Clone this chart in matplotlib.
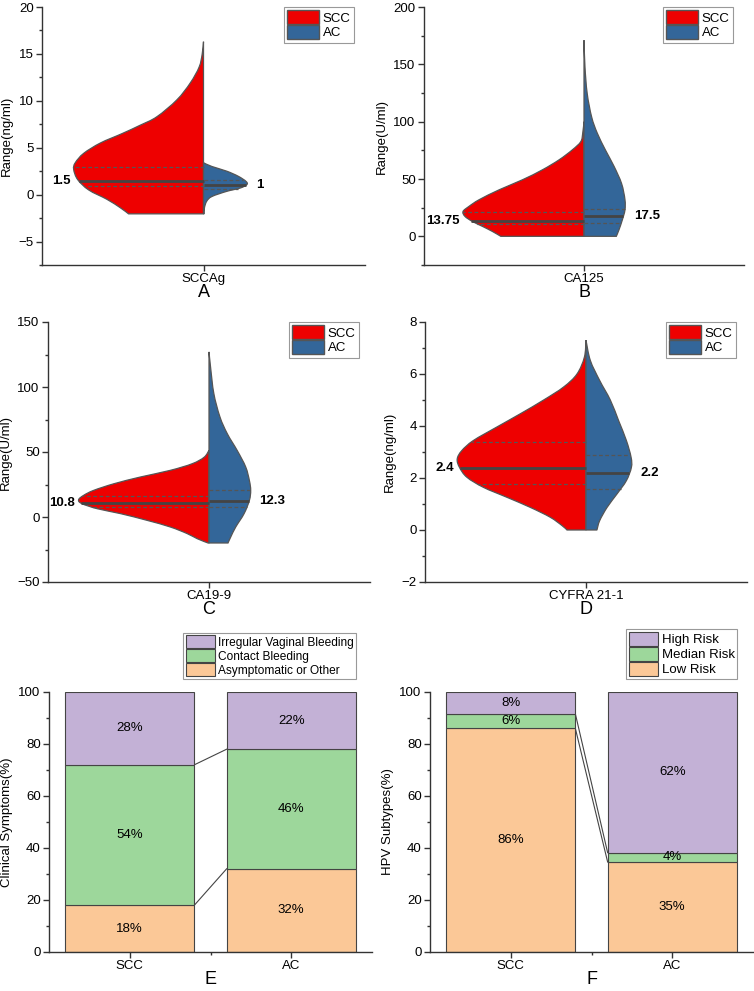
import matplotlib
matplotlib.use("Agg")
import matplotlib.pyplot as plt
import numpy as np
from matplotlib.patches import Patch, PathPatch
from matplotlib.path import Path
from matplotlib.ticker import MultipleLocator

plt.rcParams['font.family'] = ['Liberation Sans', 'DejaVu Sans']

RED = '#EE0000'
BLUE = '#336699'
EDGE = '#555555'
PURPLE = '#C3B1D6'
GREEN = '#9DD79B'
ORANGE = '#FBC897'

groups = ['SCC', 'AC']

# ---- violin outlines: value, half width ----
scc_a_y = [-2.05, -1.4, -0.5, 0.5, 1.6, 2.7, 3.4, 4.4, 5.5, 6.5, 7.4, 8.3, 10.1, 11.9, 13.6, 15.0, 16.3]
scc_a_w = [0.464, 0.515, 0.598, 0.711, 0.779, 0.804, 0.794, 0.742, 0.639, 0.505, 0.392, 0.289, 0.165, 0.082, 0.027, 0.008, 0.0]
ac_a_y = [-2.05, -1.4, -0.7, -0.2, 0.35, 0.7, 1.06, 1.4, 1.95, 2.5, 3.0, 3.4]
ac_a_w = [0.004, 0.006, 0.02, 0.052, 0.144, 0.227, 0.268, 0.264, 0.216, 0.144, 0.052, 0.0]

scc_b_y = [0, 4.3, 8.7, 13.0, 17.4, 21.7, 26.1, 31.9, 40.6, 49.3, 58.0, 66.7, 75.4, 82.6, 90, 100]
scc_b_w = [0.52, 0.573, 0.635, 0.698, 0.744, 0.756, 0.719, 0.656, 0.53, 0.385, 0.26, 0.156, 0.073, 0.02, 0.008, 0.0]
ac_b_y = [0, 5.8, 14.5, 23, 32, 46, 61, 75, 90, 104, 124.6, 148, 171]
ac_b_w = [0.202, 0.219, 0.24, 0.256, 0.256, 0.235, 0.188, 0.135, 0.083, 0.048, 0.02, 0.006, 0.0]

scc_c_y = [-20, -16.7, -12.8, -7.7, -2.6, 2.6, 6.4, 10.3, 13.3, 16.7, 20.5, 25.6, 30.8, 35.9, 41, 46, 51.3]
scc_c_w = [0.006, 0.073, 0.135, 0.24, 0.384, 0.55, 0.695, 0.79, 0.81, 0.778, 0.716, 0.59, 0.425, 0.24, 0.104, 0.03, 0.0]
ac_c_y = [-20, -15.4, -7.7, 2.6, 12.8, 20.5, 28, 38.5, 51, 64, 77, 95, 115, 127]
ac_c_w = [0.118, 0.135, 0.166, 0.218, 0.251, 0.259, 0.251, 0.228, 0.176, 0.114, 0.068, 0.03, 0.01, 0.0]

scc_d_y = [0, 0.17, 0.49, 0.87, 1.26, 1.64, 2.03, 2.41, 2.73, 3.05, 3.44, 3.96, 4.47, 5.0, 5.5, 6.0, 6.65, 7.3]
scc_d_w = [0.118, 0.149, 0.222, 0.346, 0.492, 0.637, 0.74, 0.786, 0.8, 0.772, 0.7, 0.554, 0.408, 0.263, 0.139, 0.056, 0.01, 0.0]
ac_d_y = [0, 0.36, 0.87, 1.39, 1.9, 2.41, 2.8, 3.44, 4.2, 5.0, 5.75, 6.52, 7.3]
ac_d_w = [0.068, 0.085, 0.131, 0.193, 0.251, 0.282, 0.28, 0.251, 0.203, 0.151, 0.085, 0.027, 0.0]

# medians and quartiles (SCC, AC)
medians_a = [1.5, 1]
quart_a = [(0.9, 2.9), (0.65, 1.6)]
medians_b = [13.75, 17.5]
quart_b = [(11, 21), (11.6, 23.8)]
medians_c = [10.8, 12.3]
quart_c = [(7.7, 16.4), (8, 20.8)]
medians_d = [2.4, 2.2]
quart_d = [(1.77, 3.38), (1.58, 2.89)]

markers = ['SCCAg', 'CA125', 'CA19-9', 'CYFRA 21-1']
units = ['Range(ng/ml)', 'Range(U/ml)', 'Range(U/ml)', 'Range(ng/ml)']

# ---- stacked bars ----
sym_labels = ['Asymptomatic or Other', 'Contact Bleeding', 'Irregular Vaginal Bleeding']
sym_scc = [18, 54, 28]
sym_ac = [32, 46, 22]
hpv_labels = ['Low Risk', 'Median Risk', 'High Risk']
hpv_scc = [86, 5.6, 8.4]
hpv_ac = [34.6, 3.6, 61.8]
hpv_text_scc = ['86%', '6%', '8%']
hpv_text_ac = ['35%', '4%', '62%']

W, H = 754, 991
fig = plt.figure(figsize=(W / 100, H / 100), dpi=100)


def rect(x0, y0, x1, y1):
    return [x0 / W, (H - y1) / H, (x1 - x0) / W, (y1 - y0) / H]


def style_axes(ax):
    for s in ['top', 'right']:
        ax.spines[s].set_visible(False)
    for s in ['left', 'bottom']:
        ax.spines[s].set_color('#333333')
        ax.spines[s].set_linewidth(1.0)
    ax.tick_params(which='major', direction='out', length=4, width=1, color='#333333', labelsize=9.5, pad=2)
    ax.tick_params(which='minor', direction='out', length=2.5, width=1, color='#333333')


def smooth_path(xs, ys):
    # curve through the read points (Catmull-Rom drawn as cubic Bezier pieces)
    p = np.column_stack([xs, ys])
    ext = np.vstack([p[0], p, p[-1]])
    verts = [p[0]]
    codes = [Path.MOVETO]
    for i in range(len(p) - 1):
        p0, p1, p2, p3 = ext[i], ext[i + 1], ext[i + 2], ext[i + 3]
        verts += [p1 + (p2 - p0) / 6, p2 - (p3 - p1) / 6, p2]
        codes += [Path.CURVE4] * 3
    return verts, codes


def half(ax, y, w, side, color, med, q):
    y = np.asarray(y, float)
    w = np.asarray(w, float) * side
    verts, codes = smooth_path(w, y)
    verts = [(0, y[0])] + [tuple(v) for v in verts] + [(0, y[0]), (0, y[0])]
    codes = [Path.MOVETO, Path.LINETO] + codes[1:] + [Path.LINETO, Path.CLOSEPOLY]
    ax.add_patch(PathPatch(Path(verts, codes), facecolor=color, edgecolor=EDGE,
                           linewidth=0.9, zorder=2))
    wm = np.interp(med, y, w)
    ax.plot([0, wm], [med, med], color='#444444', lw=2.0, zorder=3, solid_capstyle='butt')
    for qv in q:
        wq = np.interp(qv, y, w)
        ax.plot([0, wq], [qv, qv], color='#555555', lw=0.9, ls=(0, (3, 2)), zorder=3)


def violin(ax, scc_y, scc_w, ac_y, ac_w, meds, quarts, marker, unit, letter, ylim, major, minor):
    style_axes(ax)
    half(ax, scc_y, scc_w, -1, RED, meds[0], quarts[0])
    half(ax, ac_y, ac_w, 1, BLUE, meds[1], quarts[1])
    ax.text(-max(scc_w) - 0.02, meds[0], f"{meds[0]:g}", ha='right', va='center',
            fontsize=9.5, fontweight='bold')
    ax.text(max(ac_w) + 0.055, meds[1], f"{meds[1]:g}", ha='left', va='center',
            fontsize=9.5, fontweight='bold')
    ax.set_xlim(-1, 1)
    ax.set_ylim(*ylim)
    ax.yaxis.set_major_locator(MultipleLocator(major))
    ax.yaxis.set_minor_locator(MultipleLocator(minor))
    ax.set_xticks([0])
    ax.set_xticklabels([marker])
    ax.set_ylabel(unit, fontsize=9.5, labelpad=4)
    ax.set_xlabel(letter, fontsize=13, labelpad=-1)
    handles = [Patch(facecolor=RED, edgecolor=EDGE, label='SCC'),
               Patch(facecolor=BLUE, edgecolor=EDGE, label='AC')]
    leg = ax.legend(handles=handles, loc='upper right', bbox_to_anchor=(0.965, 1.0),
                    fontsize=9.5, handlelength=2.4, handleheight=1.2, labelspacing=0.05,
                    borderpad=0.25, handletextpad=0.3, borderaxespad=0, fancybox=False,
                    framealpha=1, edgecolor='#999999')
    leg.get_frame().set_linewidth(0.8)


ax_a = fig.add_axes(rect(42, 7, 365, 265))
violin(ax_a, scc_a_y, scc_a_w, ac_a_y, ac_a_w, medians_a, quart_a, markers[0], units[0], 'A',
       (-7.5, 20), 5, 2.5)
ax_b = fig.add_axes(rect(424, 7, 744, 265))
violin(ax_b, scc_b_y, scc_b_w, ac_b_y, ac_b_w, medians_b, quart_b, markers[1], units[1], 'B',
       (-25, 200), 50, 25)
ax_c = fig.add_axes(rect(48, 322, 370, 582))
violin(ax_c, scc_c_y, scc_c_w, ac_c_y, ac_c_w, medians_c, quart_c, markers[2], units[2], 'C',
       (-50, 150), 50, 25)
ax_d = fig.add_axes(rect(425, 322, 747, 582))
violin(ax_d, scc_d_y, scc_d_w, ac_d_y, ac_d_w, medians_d, quart_d, markers[3], units[3], 'D',
       (-2, 8), 2, 1)


def stacked(ax, labels, scc, ac, txt_scc, txt_ac, ylabel, letter, legsize):
    style_axes(ax)
    colors = [ORANGE, GREEN, PURPLE]
    x = np.arange(len(groups))
    bw = 0.8
    bottoms = np.zeros(2)
    handles = []
    for i, lab in enumerate(labels):
        vals = np.array([scc[i], ac[i]])
        bars = ax.bar(x, vals, bw, bottom=bottoms, color=colors[i], edgecolor='#444444',
                      linewidth=0.8, label=lab, zorder=2)
        handles.append(bars)
        for j in range(2):
            t = [txt_scc, txt_ac][j][i]
            ax.text(x[j], bottoms[j] + vals[j] / 2, t, ha='center', va='center', fontsize=9.5, zorder=3)
        bottoms = bottoms + vals
        if i < len(labels) - 1:
            ax.plot([x[0] + bw / 2, x[1] - bw / 2], [bottoms[0], bottoms[1]], color='#444444', lw=0.8, zorder=1)
    ax.set_xlim(-0.5, 1.5)
    ax.set_ylim(0, 100)
    ax.yaxis.set_major_locator(MultipleLocator(20))
    ax.yaxis.set_minor_locator(MultipleLocator(10))
    ax.set_xticks(x)
    ax.set_xticklabels(groups)
    ax.set_xticks([0.5], minor=True)
    ax.set_ylabel(ylabel, fontsize=9.5, labelpad=4)
    ax.set_xlabel(letter, fontsize=13, labelpad=-1)
    leg = ax.legend(handles=handles[::-1], labels=labels[::-1], loc='lower right',
                    bbox_to_anchor=(0.952, 1.05), fontsize=legsize, handlelength=29 / (legsize * 1.39),
                    handleheight=1.25, labelspacing=0.05, borderpad=0.2, handletextpad=0.3,
                    borderaxespad=0, fancybox=False, framealpha=1, edgecolor='#999999')
    leg.get_frame().set_linewidth(0.8)


sym_text_scc = [f"{v}%" for v in sym_scc]
sym_text_ac = [f"{v}%" for v in sym_ac]
ax_e = fig.add_axes(rect(49, 692, 372, 952))
stacked(ax_e, sym_labels, sym_scc, sym_ac, sym_text_scc, sym_text_ac, 'Clinical Symptoms(%)', 'E', 8.6)
ax_f = fig.add_axes(rect(430, 692, 753, 952))
stacked(ax_f, hpv_labels, hpv_scc, hpv_ac, hpv_text_scc, hpv_text_ac, 'HPV Subtypes(%)', 'F', 9.5)

fig.savefig('out.png', dpi=100)
